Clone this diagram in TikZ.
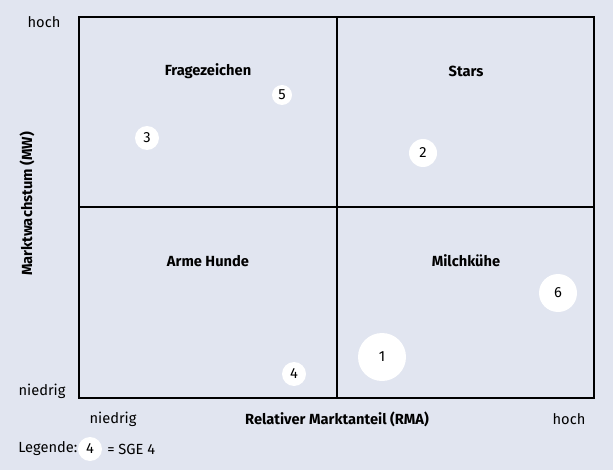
\documentclass[tikz,border=0pt]{standalone}
\usepackage{fontspec}
\setmainfont{Fira Sans}
\usetikzlibrary{positioning}
\definecolor{bggray}{HTML}{E1E5F0}
\tikzset{
  sge/.style={circle,fill=white,draw=none,inner sep=0pt,font=\fontsize{11}{13}\selectfont},
  lbl/.style={font=\fontsize{11}{13}\selectfont},
  qlbl/.style={font=\fontsize{11}{13}\selectfont\bfseries}
}
\begin{document}
\begin{tikzpicture}[x=0.75pt,y=-0.75pt]
\useasboundingbox (0,0) rectangle (613,470);
\fill[bggray] (0,0) rectangle (613,470);
% Matrix
\draw[black,line width=0.9pt] (79,17) rectangle (594,398);
\draw[black,line width=0.9pt] (337,17) -- (337,398);
\draw[black,line width=0.9pt] (79,207) -- (594,207);
% quadrant names
\node[qlbl] (q1) at (208,71) {Fragezeichen};
\node[qlbl] (q2) at (466,71) {Stars};
\node[qlbl] (q3) at (208,261) {Arme Hunde};
\node[qlbl] (q4) at (466,261) {Milchkühe};
% SGE
\node[sge,minimum size=48*0.75pt] (s1) at (382,357) {1};
\node[sge,minimum size=28*0.75pt] (s2) at (423,153) {2};
\node[sge,minimum size=24*0.75pt] (s3) at (147,138) {3};
\node[sge,minimum size=24*0.75pt] (s4) at (294,374) {4};
\node[sge,minimum size=20*0.75pt] (s5) at (282,95) {5};
\node[sge,minimum size=38*0.75pt] (s6) at (558,293) {6};
% axes
\node[lbl] (yhi) at (44,22) {hoch};
\node[lbl] (ylo) at (42,391) {niedrig};
\node[lbl] (xlo) at (113,419) {niedrig};
\node[lbl] (xhi) at (569,419) {hoch};
\node[qlbl] (xax) at (337,419) {Relativer Marktanteil (RMA)};
\node[qlbl,rotate=90] (yax) at (27,204) {Marktwachstum (MW)};
% legend
\node[lbl,anchor=west,inner xsep=0pt] (leg) at (18,449) {Legende:};
\node[sge,minimum size=24*0.75pt] (leg4) at (90,449) {4};
\node[lbl,anchor=west,inner xsep=0pt] (legt) at (107,449) {= SGE 4};
\end{tikzpicture}
\end{document}
